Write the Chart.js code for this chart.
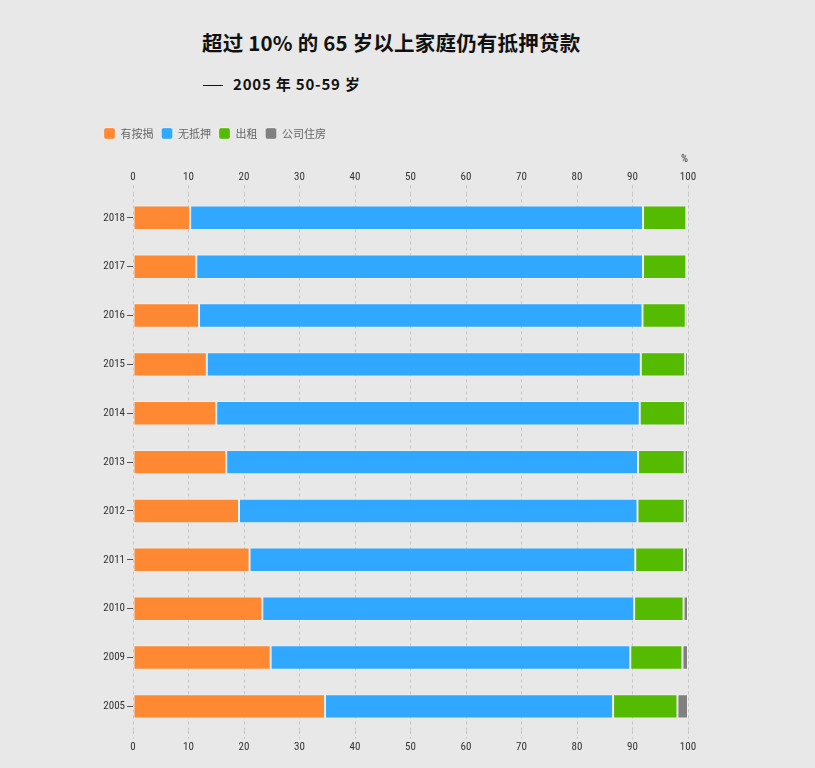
<!DOCTYPE html>
<html>
<head>
<meta charset="utf-8">
<script src="https://cdn.jsdelivr.net/npm/chart.js@4/dist/chart.umd.min.js"></script>
<style>
  body { margin: 0; background: #e8e8e8; }
  #wrap { position: relative; width: 815px; height: 768px; }
  #title { position: absolute; left: 202px; top: 27px; font: bold 20.5px "Noto Sans CJK SC", sans-serif; letter-spacing: 0.2px; color: #111; }
  #sub { position: absolute; left: 203px; top: 73px; font: bold 15px "Noto Sans CJK SC", sans-serif; letter-spacing: 0.8px; color: #111; }
  #sub span { display: inline-block; width: 20px; height: 1px; background: #111; vertical-align: middle; margin-right: 10px; }
  #box { position: absolute; left: 0; top: 120px; width: 815px; height: 648px; }
</style>
</head>
<body>
<div id="wrap">
  <div id="title">超过 10% 的 65 岁以上家庭仍有抵押贷款</div>
  <div id="sub"><span></span>2005 年 50-59 岁</div>
  <div id="box"><canvas id="myChart"></canvas></div>
</div>
<script>
var years = ['2018', '2017', '2016', '2015', '2014', '2013', '2012', '2011', '2010', '2009', '2005'];
var mortgage = [10.3, 11.4, 11.9, 13.3, 15.0, 16.8, 19.1, 21.0, 23.3, 24.8, 34.6];
var noMortgage = [81.6, 80.5, 79.9, 78.2, 76.3, 74.2, 71.8, 69.5, 67.0, 64.8, 51.9];
var rented = [7.8, 7.8, 7.8, 8.0, 8.2, 8.4, 8.5, 8.8, 8.9, 9.4, 11.6];
var company = [0.3, 0.3, 0.4, 0.5, 0.5, 0.6, 0.6, 0.7, 0.8, 1.0, 1.9];

var tickFont = { family: "'Roboto Condensed', 'Liberation Sans Narrow', Roboto, sans-serif", size: 11 };
var gridColor = '#c4c4c4';

function series(label, data, color) {
  return {
    label: label,
    data: data,
    backgroundColor: color,
    borderColor: 'rgba(255,255,255,0.3)',
    borderWidth: 1,
    borderSkipped: false,
    categoryPercentage: 1,
    barPercentage: 0.5
  };
}

var ctx = document.getElementById('myChart').getContext('2d');
var myChart = new Chart(ctx, {
  type: 'bar',
  data: {
    labels: years,
    datasets: [
      series('有按揭', mortgage, '#ff8833'),
      series('无抵押', noMortgage, '#30a8ff'),
      series('出租', rented, '#55bb00'),
      series('公司住房', company, '#808080')
    ]
  },
  options: {
    indexAxis: 'y',
    responsive: true,
    maintainAspectRatio: false,
    animation: false,
    layout: { padding: { left: 96, right: 127, top: 0, bottom: 12 } },
    plugins: {
      tooltip: { enabled: false },
      legend: {
        align: 'start',
        labels: {
          boxWidth: 11,
          boxHeight: 11,
          useBorderRadius: true,
          borderRadius: 2,
          padding: 8,
          color: '#666',
          font: { family: "'Noto Sans CJK SC', sans-serif", size: 11 }
        }
      }
    },
    scales: {
      x: {
        stacked: true,
        min: 0,
        max: 100,
        position: 'bottom',
        ticks: { stepSize: 10, color: '#333', font: tickFont, padding: 2 },
        grid: { color: gridColor, tickLength: 8, tickBorderDash: [3, 3] },
        border: { display: false, dash: [3, 3] }
      },
      x2: {
        min: 0,
        max: 100,
        position: 'top',
        ticks: { stepSize: 10, color: '#333', font: tickFont, padding: 2 },
        grid: { color: gridColor, drawOnChartArea: false, tickLength: 8, tickBorderDash: [3, 3] },
        border: { display: false, dash: [3, 3] },
        title: { display: true, text: '%', align: 'end', color: '#333', font: tickFont, padding: { top: 4, bottom: 2 } }
      },
      y: {
        stacked: true,
        afterFit: function (scale) { scale.width = 37; },
        ticks: { color: '#333', font: tickFont, padding: 2 },
        grid: { drawOnChartArea: false, offset: false, color: '#555', lineWidth: 1, tickLength: 6 },
        border: { display: false }
      }
    }
  }
});
</script>
</body>
</html>
